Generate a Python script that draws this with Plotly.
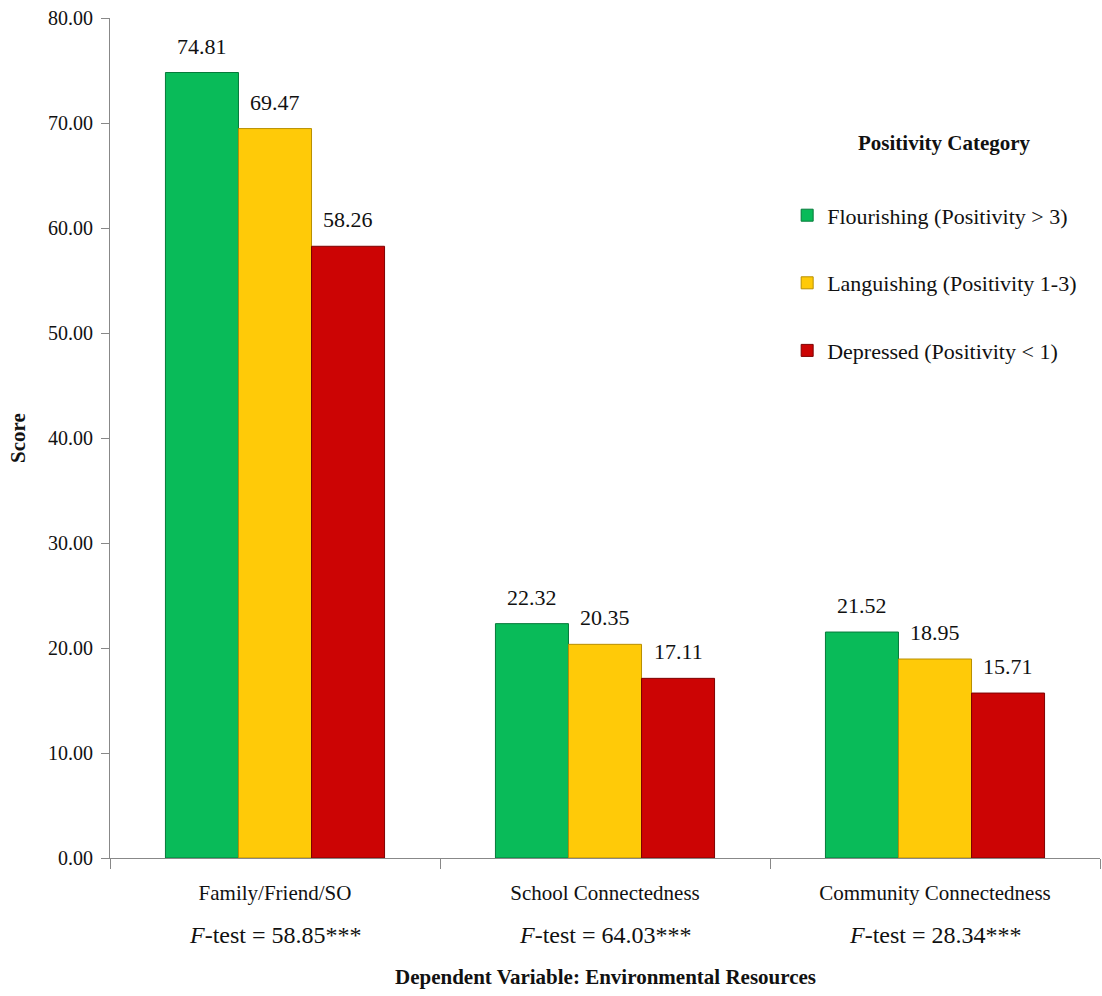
import plotly.graph_objects as go

categories = ["Family/Friend/SO", "School Connectedness", "Community Connectedness"]
f_tests = ["58.85***", "64.03***", "28.34***"]
series_names = ["Flourishing (Positivity > 3)", "Languishing (Positivity 1-3)", "Depressed (Positivity < 1)"]
flourishing = [74.81, 22.32, 21.52]
languishing = [69.47, 20.35, 18.95]
depressed = [58.26, 17.11, 15.71]
y_ticks = [0, 10, 20, 30, 40, 50, 60, 70, 80]

colors = ["#09BB59", "#FFCA08", "#CC0404"]
edge = ["#067A3A", "#B88F00", "#7E0202"]
FONT = "'Liberation Serif', 'Times New Roman', serif"

W, H = 1102, 996
L, R, T, B = 110, 2, 18, 138
BARGAP = 0.336
plot_w = W - L - R
bar_px = plot_w / len(categories) * (1 - BARGAP) / 3

fig = go.Figure()
all_series = [flourishing, languishing, depressed]
for i, (name, vals) in enumerate(zip(series_names, all_series)):
    fig.add_trace(go.Bar(
        x=categories, y=vals, name=name,
        marker=dict(color=colors[i], line=dict(color=edge[i], width=1)),
        legendgroup=f"g{i}",
    ))
    for cat, v in zip(categories, vals):
        fig.add_annotation(x=cat, xref="x", y=v, yref="y", yanchor="bottom",
                           xshift=(i - 1) * bar_px, yshift=12,
                           text=f"{v:.2f}", showarrow=False,
                           font=dict(family=FONT, size=22, color="#111"))

for cat, ft in zip(categories, f_tests):
    fig.add_annotation(x=cat, xref="x", y=-0.092, yref="paper", yanchor="middle",
                       xanchor="center",
                       text=f"<i>F</i>-test = {ft}", showarrow=False,
                       font=dict(family=FONT, size=24, color="#111"))

fig.add_annotation(x=0.5, xref="paper", y=-0.142, yref="paper", yanchor="middle",
                   xanchor="center",
                   text="<b>Dependent Variable: Environmental Resources</b>", showarrow=False,
                   font=dict(family=FONT, size=21, color="#111"))
fig.add_annotation(x=0.8434, xref="paper", y=0.851, yref="paper", yanchor="middle",
                   xanchor="center",
                   text="<b>Positivity Category</b>", showarrow=False,
                   font=dict(family=FONT, size=21, color="#111"))

fig.update_layout(
    width=W, height=H,
    margin=dict(l=L, r=R, t=T, b=B),
    paper_bgcolor="white", plot_bgcolor="white",
    barmode="group", bargap=BARGAP, bargroupgap=0,
    font=dict(family=FONT, color="#111"),
    legend=dict(x=0.684, xanchor="left", y=0.79, yanchor="top",
                font=dict(family=FONT, size=22, color="#111"),
                tracegroupgap=36, bgcolor="rgba(0,0,0,0)"),
    xaxis=dict(showline=True, linecolor="#888", linewidth=1, ticks="outside",
               tickson="boundaries", ticklen=10, tickcolor="#888",
               tickfont=dict(family=FONT, size=21, color="#111"),
               ticklabelstandoff=16),
    yaxis=dict(range=[0, 80], tickvals=y_ticks, tickformat=".2f",
               showline=True, linecolor="#888", linewidth=1, ticks="outside",
               ticklen=8, tickcolor="#888", showgrid=False, zeroline=False,
               tickfont=dict(family=FONT, size=20, color="#111"),
               ticklabelstandoff=4,
               title=dict(text="<b>Score</b>", font=dict(family=FONT, size=21, color="#111"),
                          standoff=16)),
)

fig.write_html("out.html")
